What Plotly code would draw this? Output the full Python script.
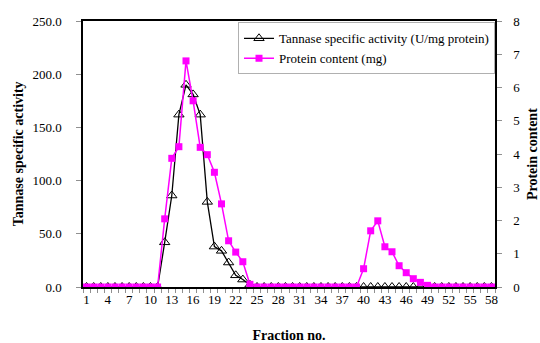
import plotly.graph_objects as go

fractions = list(range(1, 59))

activity = [0]*11 + [42, 86, 162, 190, 181, 162, 80, 38, 34, 23, 11, 7, 2] + [0]*34

protein = ([0]*11 + [2.05, 3.87, 4.22, 6.8, 5.6, 4.2, 3.98, 3.45, 2.5, 1.39, 1.05, 0.76, 0.08]
           + [0]*15 + [0.55, 1.69, 1.99, 1.21, 1.06, 0.64, 0.43, 0.25, 0.14, 0.05] + [0]*9)

x_tick_labels = list(range(1, 59, 3))

FONT = "Liberation Serif"

fig = go.Figure()
fig.add_trace(go.Scatter(
    x=fractions, y=activity, name="Tannase specific activity (U/mg protein)",
    mode="lines+markers",
    line=dict(color="black", width=1.3),
    marker=dict(symbol="triangle-up-open", size=9, color="black", line=dict(width=1)),
    yaxis="y"))
fig.add_trace(go.Scatter(
    x=fractions, y=protein, name="Protein content (mg)",
    mode="lines+markers",
    line=dict(color="#ff00ff", width=1.5),
    marker=dict(symbol="square", size=7, color="#ff00ff"),
    yaxis="y2"))

fig.update_layout(
    width=540, height=343,
    margin=dict(l=83, r=45, t=21, b=56, autoexpand=False),
    paper_bgcolor="white", plot_bgcolor="white",
    font=dict(family=FONT, size=13, color="black"),
    showlegend=True,
    legend=dict(x=1.0, xanchor="right", y=0.995, yanchor="top",
                bgcolor="white", bordercolor="#b0b0b0", borderwidth=1,
                font=dict(family=FONT, size=13), tracegroupgap=0,
                itemwidth=30),
    xaxis=dict(
        range=[0.5, 58.5], tickmode="array", tickvals=x_tick_labels,
        ticktext=[str(v) for v in x_tick_labels],
        ticks="", showgrid=False, zeroline=False, automargin=False,
        showline=True, linecolor="black", linewidth=1.5, mirror=True,
        ticklabelstandoff=0,
        minor=dict(ticks="outside", tick0=0.5, dtick=1, ticklen=4,
                   tickcolor="#909090", showgrid=False),
        title=dict(text="<b>Fraction no.</b>", font=dict(size=14, family=FONT), standoff=27),
        tickfont=dict(size=13, family=FONT)),
    yaxis=dict(
        range=[0, 250], dtick=50, tickformat=".1f",
        ticks="outside", ticklen=5, tickcolor="#909090",
        ticklabelstandoff=12, automargin=False,
        showgrid=False, zeroline=False,
        showline=True, linecolor="black", linewidth=1.5,
        tickfont=dict(size=13, family=FONT)),
    yaxis2=dict(
        range=[0, 8], dtick=1, overlaying="y", side="right",
        ticks="outside", ticklen=5, tickcolor="#909090",
        ticklabelstandoff=9, automargin=False,
        showgrid=False, zeroline=False,
        showline=True, linecolor="black", linewidth=1.5,
        tickfont=dict(size=13, family=FONT)),
    annotations=[
        dict(text="<b>Tannase specific activity</b>", xref="paper", yref="paper",
             x=-0.157, y=0.5, xanchor="center", yanchor="middle", textangle=-90,
             showarrow=False, font=dict(size=14, family=FONT)),
        dict(text="<b>Protein content</b>", xref="paper", yref="paper",
             x=1.09, y=0.5, xanchor="center", yanchor="middle", textangle=-90,
             showarrow=False, font=dict(size=14, family=FONT)),
    ],
)

fig.write_html(
    "out.html",
    config={"displayModeBar": False},
    post_script="document.body.style.margin='0';document.body.style.overflow='hidden';",
)
